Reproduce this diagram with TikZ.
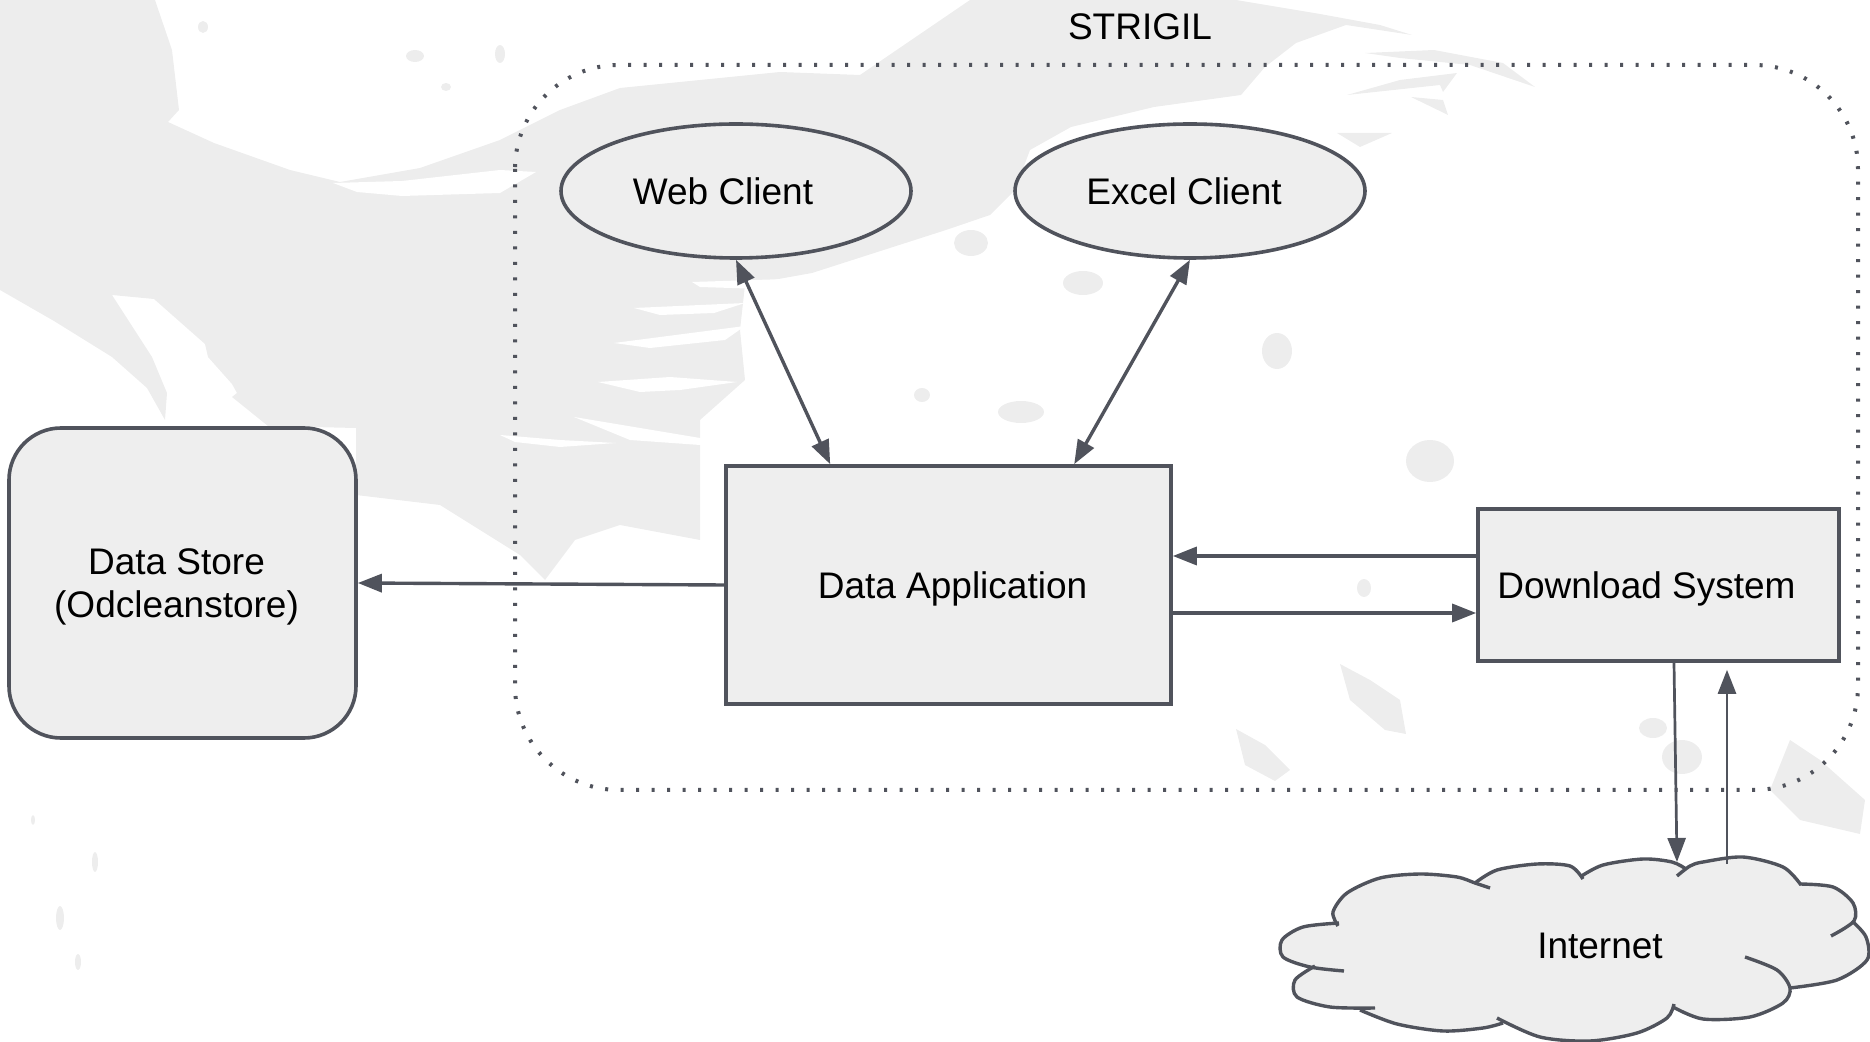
\documentclass[tikz,border=0pt]{standalone}
\usepackage{fontspec}
\setmainfont{Liberation Sans}
\usetikzlibrary{shapes.geometric,arrows.meta,calc}
\definecolor{ln}{HTML}{50535C}
\definecolor{fl}{HTML}{EEEEEE}
\definecolor{sp}{HTML}{EDEDED}
\tikzset{
  lbl/.style={font=\fontsize{18.5}{21.5}\selectfont, text=black},
  box/.style={lbl, draw=ln, line width=1.8pt, fill=fl, inner sep=0pt, text depth=0pt},
  ellbox/.style={box, ellipse, minimum width=175pt, minimum height=67pt},
  rectbox/.style={box, rectangle},
  tipA/.tip={Triangle[length=12pt,width=9pt]},
  conn/.style={draw=ln, line width=1.7pt, -tipA},
  thinconn/.style={draw=ln, line width=1.35pt, -tipA},
  biconn/.style={draw=ln, line width=1.7pt, tipA-tipA},
  splat/.style={fill=sp},
  wht/.style={fill=white},
  border/.style={draw=ln, line width=2pt, dash pattern=on 1.5pt off 6.25pt, rounded corners=52pt},
  cloudline/.style={draw=ln, line width=1.7pt},
}
\begin{document}
\begin{tikzpicture}[x={(0.5pt,0)}, y={(0,-0.5pt)}]
\useasboundingbox (0,0) rectangle (1870,1042);

% ---------- background splatter ----------
\fill[splat] (0,0) -- (155,0) -- (172,50) -- (179,110) -- (168,122) -- (214,143) -- (290,170) -- (340,182)
  -- (420,168) -- (500,140) -- (560,110) -- (620,88) -- (700,80) -- (780,72) -- (860,75)
  -- (970,0) -- (1236,0) -- (1320,14) -- (1380,25) -- (1412,35) -- (1346,25) -- (1296,43) -- (1265,67)
  -- (1241,95) -- (1154,107) -- (1071,127) -- (1030,150) -- (1015,190) -- (990,215) -- (946,230)
  -- (812,273) -- (745,285) -- (740,330) -- (745,380) -- (700,420) -- (700,540) -- (620,525) -- (575,540)
  -- (545,580) -- (520,555) -- (480,530) -- (440,505) -- (356,495) -- (356,428) -- (268,426) -- (232,397)
  -- (237,393) -- (232,384) -- (208,357) -- (205,344) -- (154,299) -- (112,295) -- (152,357) -- (167,393)
  -- (165,420) -- (147,388) -- (112,357) -- (54,321) -- (0,290) -- cycle;
\fill[wht] (333,183) -- (402,181) -- (500,170) -- (536,172) -- (500,193) -- (402,196) -- (357,192) -- cycle;
\fill[wht] (692,282) -- (786,279) -- (763,289) -- (700,287) -- cycle;
\fill[wht] (634,308) -- (745,303) -- (714,313) -- (660,315) -- cycle;
\fill[wht] (614,343) -- (745,326) -- (725,340) -- (650,348) -- cycle;
\fill[wht] (598,382) -- (670,377) -- (737,382) -- (680,390) -- (640,392) -- cycle;
\fill[wht] (574,417) -- (640,428) -- (700,438) -- (750,440) -- (700,445) -- (630,440) -- cycle;
\fill[wht] (500,435) -- (560,440) -- (616,443) -- (560,447) -- (515,442) -- cycle;
% feathers top right
\fill[splat] (1365,53) -- (1434,50) -- (1503,63) -- (1535,87) -- (1470,65) -- (1400,58) -- cycle;
\fill[splat] (1347,95) -- (1400,80) -- (1457,73) -- (1443,92) -- (1440,85) -- cycle;
\fill[splat] (1411,97) -- (1443,100) -- (1448,115) -- cycle;
\fill[splat] (1337,133) -- (1392,133) -- (1360,147) -- cycle;
% blobs
\fill[splat] (971,243) ellipse [x radius=17, y radius=13];
\fill[splat] (1083,283) ellipse [x radius=20, y radius=12];
\fill[splat] (1277,351) ellipse [x radius=15, y radius=18];
\fill[splat] (1430,461) ellipse [x radius=24, y radius=21];
\fill[splat] (1021,412) ellipse [x radius=23, y radius=11];
\fill[splat] (922,395) ellipse [x radius=8, y radius=7];
\fill[splat] (1364,588) ellipse [x radius=7, y radius=9];
\fill[splat] (1340,664) -- (1370,680) -- (1400,700) -- (1406,734) -- (1385,730) -- (1350,700) -- cycle;
\fill[splat] (1236,729) -- (1265,745) -- (1290,770) -- (1275,781) -- (1245,765) -- cycle;
\fill[splat] (1653,728) ellipse [x radius=14, y radius=10];
\fill[splat] (1682,757) ellipse [x radius=20, y radius=17];
\fill[splat] (1790,740) -- (1820,760) -- (1865,800) -- (1860,834) -- (1800,820) -- (1770,790) -- cycle;
\fill[splat] (203,27) ellipse [x radius=5, y radius=6];
\fill[splat] (415,56) ellipse [x radius=9, y radius=6];
\fill[splat] (500,54) ellipse [x radius=5, y radius=9];
\fill[splat] (446,87) ellipse [x radius=5, y radius=4];
\fill[splat] (60,918) ellipse [x radius=4, y radius=12];
\fill[splat] (95,862) ellipse [x radius=3, y radius=10];
\fill[splat] (78,962) ellipse [x radius=3, y radius=8];
\fill[splat] (33,820) ellipse [x radius=2, y radius=5];

% ---------- STRIGIL boundary ----------
\draw[border] (515,65) rectangle (1858,790);
\node[lbl] (title) at (1140,27) {STRIGIL};

% ---------- nodes ----------
\node[ellbox] (web) at (736,191) {Web Client\hspace*{13pt}};
\node[ellbox] (excel) at (1190,191) {Excel Client\hspace*{6pt}};
\node[rectbox, minimum width=222.5pt, minimum height=119pt] (app) at (948.5,585) {\hspace*{4pt}Data Application};
\node[rectbox, minimum width=180.5pt, minimum height=76pt] (ds) at (1658.5,585) {Download System\hspace*{12pt}};
\node[rectbox, rounded corners=26pt, minimum width=173.5pt, minimum height=155pt, align=center] (store) at (182.5,583)
  {Data Store\hspace*{6pt}\\(Odcleanstore)\hspace*{6pt}};

% ---------- cloud ----------
\fill[fl] plot[smooth] coordinates {(1338,924) (1333,912) (1347,893) (1380,878) (1420,874) (1457,877) (1475,883)}
  -- plot[smooth] coordinates {(1475,883) (1497,870) (1537,864) (1570,866) (1581,877)}
  -- plot[smooth] coordinates {(1581,877) (1603,865) (1643,859) (1672,862) (1685,868)}
  -- plot[smooth] coordinates {(1685,868) (1703,862) (1743,857) (1783,867) (1801,885)}
  -- plot[smooth] coordinates {(1801,885) (1833,887) (1853,903) (1854,921)}
  -- plot[smooth] coordinates {(1854,921) (1866,937) (1867,960) (1837,980) (1790,988)}
  -- plot[smooth] coordinates {(1790,988) (1783,1003) (1750,1017) (1703,1019) (1673,1007)}
  -- plot[smooth] coordinates {(1673,1007) (1667,1018) (1637,1033) (1590,1041) (1540,1037) (1500,1022)}
  -- plot[smooth] coordinates {(1500,1022) (1483,1028) (1443,1031) (1397,1024) (1360,1010)}
  -- plot[smooth] coordinates {(1360,1010) (1330,1007) (1297,997) (1295,980) (1313,967)}
  -- plot[smooth] coordinates {(1313,967) (1283,957) (1282,940) (1303,927) (1338,924)} -- cycle;
\draw[cloudline] plot[smooth] coordinates {(1338,926) (1333,912) (1347,893) (1380,878) (1420,874) (1457,877) (1475,883) (1490,888)};
\draw[cloudline] plot[smooth] coordinates {(1475,883) (1497,870) (1537,864) (1570,866) (1583,879)};
\draw[cloudline] plot[smooth] coordinates {(1580,877) (1603,865) (1643,859) (1672,862) (1686,869)};
\draw[cloudline] plot[smooth] coordinates {(1677,876) (1690,866) (1703,862) (1743,857) (1783,867) (1801,885)};
\draw[cloudline] plot[smooth] coordinates {(1800,884) (1833,887) (1853,903) (1854,921) (1831,936)};
\draw[cloudline] plot[smooth] coordinates {(1852,921) (1866,937) (1867,960) (1837,980) (1790,988)};
\draw[cloudline] plot[smooth] coordinates {(1745,957) (1777,970) (1790,988) (1783,1003) (1750,1017) (1703,1019) (1673,1007)};
\draw[cloudline] plot[smooth] coordinates {(1674,1004) (1667,1018) (1637,1033) (1590,1041) (1540,1037) (1497,1018)};
\draw[cloudline] plot[smooth] coordinates {(1360,1010) (1397,1024) (1443,1031) (1483,1028) (1503,1023)};
\draw[cloudline] plot[smooth] coordinates {(1315,966) (1295,980) (1297,997) (1330,1007) (1375,1008)};
\draw[cloudline] plot[smooth] coordinates {(1339,923) (1303,927) (1282,940) (1283,957) (1310,967) (1344,971)};
\node[lbl] (net) at (1600,946) {Internet};
\coordinate (netin) at (1677,862);
\coordinate (netout) at (1727,864);

% ---------- connectors ----------
\draw[biconn] (web.south) -- ([xshift=53pt]app.north west);
\draw[biconn] (excel.south) -- ([xshift=175pt]app.north west);
\draw[conn] (app.west) -- (store.east);
\draw[conn] ([yshift=14.5pt]ds.west) -- ([yshift=14.5pt]app.east);
\draw[conn] ([yshift=-14pt]app.east) -- ([yshift=-14pt]ds.west);
\draw[thinconn] ([xshift=7.75pt]ds.south) -- (netin);
\draw[thinconn] (netout) -- ([xshift=34.25pt,yshift=-3.5pt]ds.south);
\end{tikzpicture}
\end{document}
